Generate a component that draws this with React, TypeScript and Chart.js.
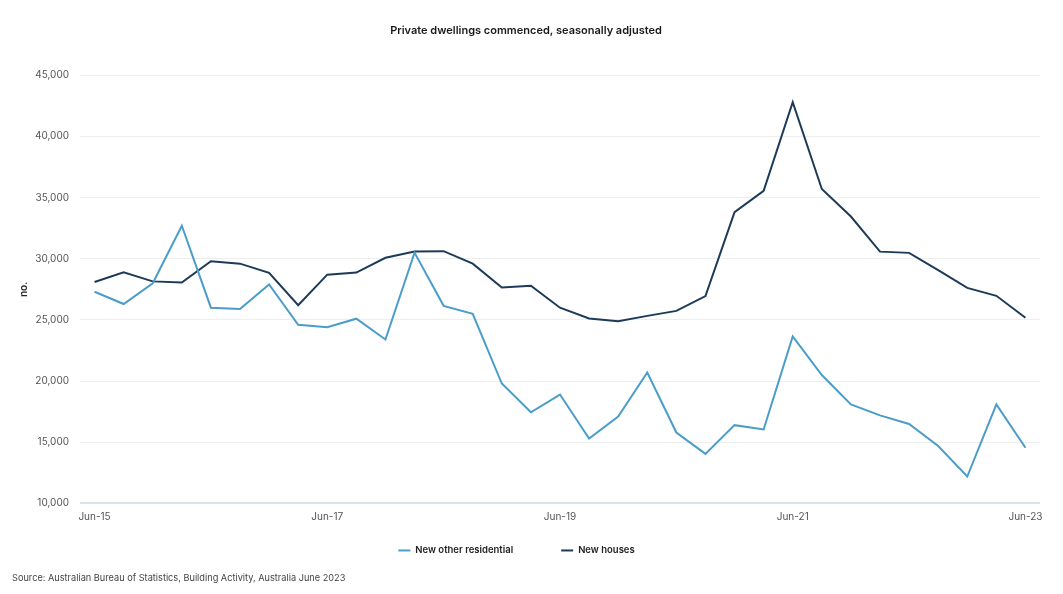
import React, { useEffect, useRef } from "react";
import { Chart, registerables } from "chart.js";

Chart.register(...registerables);

const quarters = [
  "Jun-15", "Sep-15", "Dec-15", "Mar-16",
  "Jun-16", "Sep-16", "Dec-16", "Mar-17",
  "Jun-17", "Sep-17", "Dec-17", "Mar-18",
  "Jun-18", "Sep-18", "Dec-18", "Mar-19",
  "Jun-19", "Sep-19", "Dec-19", "Mar-20",
  "Jun-20", "Sep-20", "Dec-20", "Mar-21",
  "Jun-21", "Sep-21", "Dec-21", "Mar-22",
  "Jun-22", "Sep-22", "Dec-22", "Mar-23",
  "Jun-23",
];

const newOtherResidential = [
  27300, 26300, 28000, 32700, 26000, 25900, 27900, 24600,
  24400, 25100, 23400, 30500, 26150, 25500, 19800, 17450,
  18900, 15300, 17100, 20700, 15800, 14050, 16400, 16050,
  23650, 20500, 18100, 17200, 16500, 14700, 12200, 18100,
  14550,
];

const newHouses = [
  28100, 28900, 28150, 28050, 29800, 29600, 28850, 26200,
  28700, 28870, 30080, 30600, 30620, 29600, 27650, 27800,
  26000, 25120, 24900, 25330, 25740, 26950, 33800, 35550,
  42800, 35700, 33450, 30580, 30480, 29070, 27620, 26970,
  25180,
];

const yTicks = [10000, 15000, 20000, 25000, 30000, 35000, 40000, 45000];
const xTickEvery = 8;

const titleText = "Private dwellings commenced, seasonally adjusted";
const sourceText = "Source: Australian Bureau of Statistics, Building Activity, Australia June 2023";
const yAxisTitle = "no.";

const FONT = "Inter, 'Noto Sans', 'DejaVu Sans', sans-serif";

// Legend drawn between the x axis and the source line, with wide spacing between items.
const spacedLegend = {
  id: "spacedLegend",
  afterDraw(chart: any) {
    const ctx = chart.ctx;
    const xScale = chart.scales.x;
    const fontSize = 9.5;
    const markerW = 12;
    const markerGap = 5;
    const itemGap = 48;
    ctx.save();
    ctx.font = `600 ${fontSize}px ${FONT}`;
    const items = chart.data.datasets.map((ds: any) => {
      const w = ctx.measureText(ds.label).width;
      return { label: ds.label, color: ds.borderColor, w };
    });
    const total =
      items.reduce((s: number, it: any) => s + markerW + markerGap + it.w, 0) + itemGap * (items.length - 1);
    const center = chart.width / 2 - 15;
    const cy = xScale.bottom + 19;
    let x = center - total / 2;
    ctx.textBaseline = "middle";
    ctx.textAlign = "left";
    for (const it of items) {
      ctx.fillStyle = it.color;
      ctx.fillRect(x, cy - 1, markerW, 2);
      ctx.fillStyle = "#222";
      ctx.fillText(it.label, x + markerW + markerGap, cy);
      x += markerW + markerGap + it.w + itemGap;
    }
    ctx.restore();
  },
};

export default function App() {
  const canvasRef = useRef<HTMLCanvasElement | null>(null);

  useEffect(() => {
    if (!canvasRef.current) return;
    const chart = new Chart(canvasRef.current, {
      type: "line",
      data: {
        labels: quarters,
        datasets: [
          {
            label: "New other residential",
            data: newOtherResidential,
            borderColor: "#4b9dc9",
            backgroundColor: "#4b9dc9",
            borderWidth: 2,
            pointRadius: 0,
            tension: 0,
          },
          {
            label: "New houses",
            data: newHouses,
            borderColor: "#1d3b58",
            backgroundColor: "#1d3b58",
            borderWidth: 2,
            pointRadius: 0,
            tension: 0,
          },
        ],
      },
      options: {
        animation: false,
        responsive: true,
        maintainAspectRatio: false,
        layout: { padding: { left: 12, right: 23, top: 0, bottom: 0 } },
        font: { family: FONT },
        plugins: {
          title: {
            display: true,
            text: titleText,
            color: "#1a1a1a",
            font: { family: FONT, size: 11, weight: "600" },
            padding: { top: 24, bottom: 38 },
          },
          subtitle: {
            display: true,
            text: sourceText,
            position: "bottom",
            align: "start",
            color: "#444",
            font: { family: FONT, size: 9.2, weight: "normal" },
            padding: { top: 41.5, bottom: 10 },
          },
          legend: { display: false },
          tooltip: { enabled: false },
        },
        scales: {
          x: {
            type: "category",
            offset: true,
            grid: { display: false, drawTicks: false },
            border: { display: false },
            afterFit: (scale: any) => {
              scale.height = 28;
            },
            ticks: {
              autoSkip: false,
              maxRotation: 0,
              minRotation: 0,
              padding: 8,
              color: "#555",
              font: { family: FONT, size: 10 },
              callback: (_v: any, i: number) => (i % xTickEvery === 0 ? quarters[i] : ""),
            },
          },
          y: {
            min: yTicks[0],
            max: yTicks[yTicks.length - 1],
            border: { display: false },
            afterBuildTicks: (axis: any) => {
              axis.ticks = yTicks.map((v) => ({ value: v }));
            },
            afterFit: (scale: any) => {
              scale.width = 68;
            },
            grid: {
              drawTicks: false,
              color: (ctx: any) => (ctx.tick && ctx.tick.value === yTicks[0] ? "#dde3ea" : "#eeeeee"),
              lineWidth: (ctx: any) => (ctx.tick && ctx.tick.value === yTicks[0] ? 2 : 1),
            },
            ticks: {
              padding: 11,
              color: "#555",
              font: { family: FONT, size: 10 },
              callback: (v: any) => Number(v).toLocaleString("en-US"),
            },
            title: {
              display: true,
              text: yAxisTitle,
              color: "#222",
              font: { family: FONT, size: 10, weight: "600" },
              padding: { top: 6, bottom: 4 },
            },
          },
        },
      },
      plugins: [spacedLegend],
    });
    return () => chart.destroy();
  }, []);

  return (
    <div style={{ position: "absolute", left: 0, top: 0, width: 1063, height: 594, background: "#fff" }}>
      <canvas ref={canvasRef} />
    </div>
  );
}
